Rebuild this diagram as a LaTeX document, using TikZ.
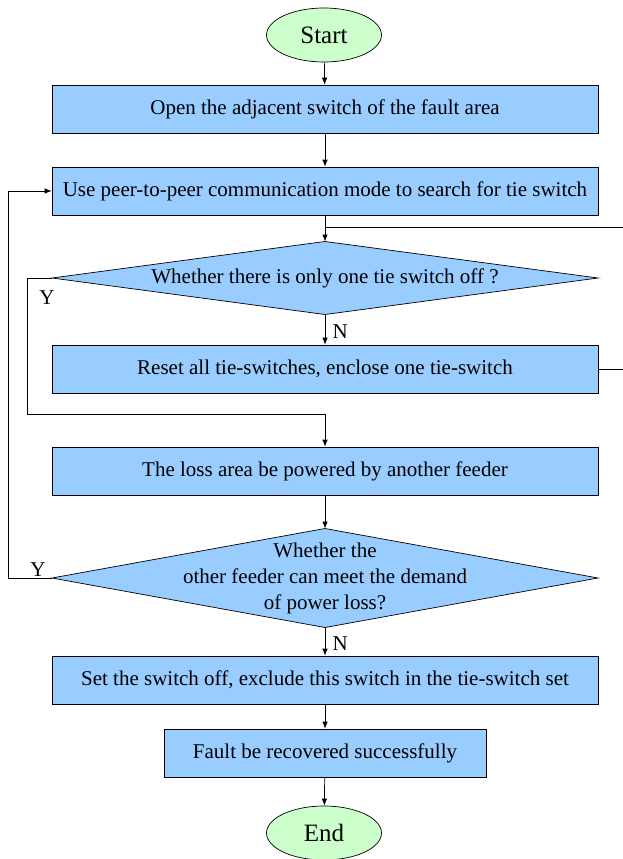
\documentclass[tikz,border=0pt]{standalone}
\usepackage{fontspec}
\setmainfont{Liberation Serif}
\usepackage{tikz}
\usetikzlibrary{calc,shapes.geometric,arrows.meta}

\definecolor{boxblue}{HTML}{99CCFF}
\definecolor{termgreen}{HTML}{CCFFCC}

\tikzset{
	proc/.style={draw, fill=boxblue, line width=0.7pt, minimum width=546pt, minimum height=48pt, inner sep=0pt},
	term/.style={draw, ellipse, fill=termgreen, line width=0.7pt, minimum width=115pt, minimum height=54pt, inner sep=0pt, font=\rmfamily\fontsize{25}{30}\selectfont},
	decide/.style={draw, diamond, fill=boxblue, line width=0.7pt, inner sep=0pt, outer sep=0pt},
	arr/.style={line width=0.7pt, -{Latex[length=7pt,width=5.5pt]}},
	conn/.style={line width=0.7pt}
}

\begin{document}
\begin{tikzpicture}[x=1pt,y=-1pt,font=\rmfamily\fontsize{21}{26}\selectfont]
	\useasboundingbox (0,0) rectangle (623,859);
	
	%terminals
	\node[term] (start) at (324,35)  {Start};
	\node[term] (end)   at (324,833) {End};
	
	%process boxes
	\node[proc] (open)    at (325,109) {Open the adjacent switch of the fault area};
	\node[proc] (search)  at (325,191) {Use peer-to-peer communication mode to search for tie switch};
	\node[proc] (reset)   at (325,369) {Reset all tie-switches, enclose one tie-switch};
	\node[proc] (loss)    at (325,471) {The loss area be powered by another feeder};
	\node[proc] (exclude) at (325,680) {Set the switch off, exclude this switch in the tie-switch set};
	\node[proc, minimum width=322pt] (done) at (325,753) {Fault be recovered successfully};
	
	%decisions
	\node[decide, minimum width=546pt, minimum height=73pt,
		label=center:{Whether there is only one tie switch off ?}] (onlyone) at (325,278) {};
	\node[decide, minimum width=546pt, minimum height=99pt,
		label={[align=center]center:Whether the\\other feeder can meet the demand\\of power loss?}] (demand) at (325,578) {};
	
	%loop points
	\coordinate (rightin)  at (623,227);
	\coordinate (rightout) at (623,369);
	\coordinate (ybranch)  at (27,414);
	\coordinate (yback)    at (8,191);
	
		%main flow
		\draw[arr] (start) -- (open);
		\draw[arr] (open) -- (search);
		\draw[arr] (search) -- (onlyone);
		\draw[arr] (onlyone) -- node[right, xshift=4pt, yshift=-2pt] {N} (reset);
		\draw[arr] (loss) -- (demand);
		\draw[arr] (demand) -- node[right, xshift=4pt, yshift=-2pt] {N} (exclude);
		\draw[arr] (exclude) -- (done);
		\draw[arr] (done) -- (end);
		
		%reset loop (runs off the right edge)
		\draw[conn] (reset.east) -- (rightout);
		\draw[conn] (rightin) -- (rightin -| onlyone.north);
		
		%Y branches
		\draw[arr] (onlyone.west) -| (ybranch) -| (loss.north);
		\node at (47,298) {Y};
		\draw[arr] (demand.west) -| (yback) -- (search.west);
		\node at (38,570) {Y};
\end{tikzpicture}
\end{document}
